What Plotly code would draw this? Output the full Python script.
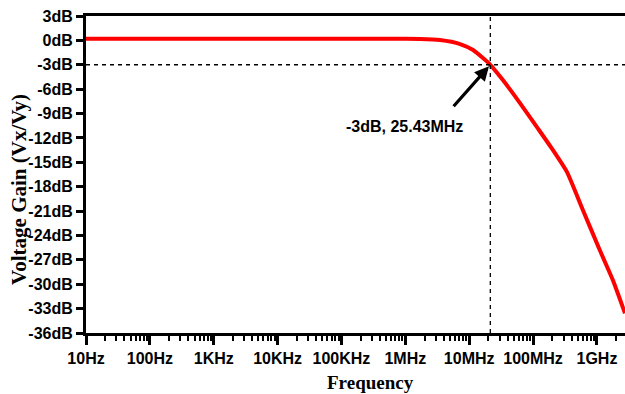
import math
import plotly.graph_objects as go

# Data
freq_hz = [10, 1e3, 1e5, 1e6, 1.7e6, 3.5e6, 7.2e6, 1.15e7, 1.64e7, 2.14e7, 3.37e7,
           6.24e7, 1.15e8, 2.05e8, 3.4e8, 6.04e8, 1.11e9, 1.78e9, 2.75e9]
gain_db = [0.2, 0.2, 0.2, 0.2, 0.18, 0.04, -0.45, -1.19, -2.17, -3.0, -4.88,
           -7.71, -10.67, -13.5, -16.2, -20.89, -25.82, -29.51, -33.58]

tick_freqs = [1e1, 1e2, 1e3, 1e4, 1e5, 1e6, 1e7, 1e8, 1e9]
tick_freq_labels = ["10Hz", "100Hz", "1KHz", "10KHz", "100KHz", "1MHz", "10MHz", "100MHz", "1GHz"]
y_ticks = list(range(3, -37, -3))
y_tick_labels = [f"{v}dB" for v in y_ticks]

marker_freq = 2.14e7   # where the dashed lines cross, as drawn
marker_gain = -3
marker_label = "-3dB, 25.43MHz"

x_min, x_max = 10, 2.75e9
y_min, y_max = -36, 3

sans = "Liberation Sans, Arial, sans-serif"
serif = "Liberation Serif, Times New Roman, serif"
tickfont = dict(family=sans, size=16, color="black", weight="bold")

W, H = 625, 394
plot_left, plot_top, plot_right, plot_bottom = 86, 16, 625, 333
ml, mt, mr, mb = plot_left, plot_top, W - plot_right, H - plot_bottom
pw, ph = W - ml - mr, H - mt - mb


def px_to_paper(px, py):
    return (px - plot_left) / pw, (plot_bottom - py) / ph


fig = go.Figure()
fig.add_trace(go.Scatter(x=freq_hz, y=gain_db, mode="lines",
                         line=dict(color="#FF0000", width=4, shape="spline", smoothing=0.5),
                         hoverinfo="skip", showlegend=False))

# dashed reference lines
fig.add_trace(go.Scatter(x=[x_min, x_max], y=[marker_gain, marker_gain], mode="lines",
                         line=dict(color="black", width=1.3, dash="4px,4px"), showlegend=False))
fig.add_trace(go.Scatter(x=[marker_freq, marker_freq], y=[y_min, y_max], mode="lines",
                         line=dict(color="black", width=1.3, dash="4px,4px"), showlegend=False))

fig.add_annotation(x=math.log10(marker_freq), y=marker_gain, xref="x", yref="y",
                   text="", showarrow=True, ax=-38, ay=43, arrowhead=2, arrowsize=0.9,
                   arrowwidth=3.2, arrowcolor="black", standoff=2)
fig.add_annotation(x=math.log10(marker_freq), y=marker_gain, xref="x", yref="y",
                   text=marker_label, showarrow=False, xshift=-86, yshift=-62,
                   font=dict(family=sans, size=16, color="black", weight="bold"))

# axis titles
tx, ty = px_to_paper(370, 382)
fig.add_annotation(x=tx, y=ty, xref="paper", yref="paper", text="<b>Frequency</b>",
                   xanchor="center", yanchor="middle",
                   showarrow=False, font=dict(family=serif, size=19, color="black"))
tx, ty = px_to_paper(19, 190)
fig.add_annotation(x=tx, y=ty, xref="paper", yref="paper", text="<b>Voltage Gain (Vx/Vy)</b>",
                   xanchor="center", yanchor="middle",
                   showarrow=False, textangle=-90, font=dict(family=serif, size=21, color="black"))

fig.update_layout(
    width=W, height=H,
    margin=dict(l=ml, r=mr, t=mt, b=mb),
    paper_bgcolor="white", plot_bgcolor="white",
    xaxis=dict(type="log", range=[math.log10(x_min), math.log10(x_max)],
               tickvals=tick_freqs, ticktext=tick_freq_labels, tickangle=0, automargin=False,
               ticklabeloverflow="allow",
               showgrid=False, zeroline=False,
               showline=True, linecolor="black", linewidth=3, mirror=True,
               ticks="outside", ticklen=9, tickwidth=3, tickcolor="black",
               minor=dict(ticks="outside", ticklen=5, tickwidth=2, tickcolor="black", dtick="D1", showgrid=False),
               tickfont=tickfont),
    yaxis=dict(range=[y_min, y_max], tickvals=y_ticks, ticktext=y_tick_labels, automargin=False,
               ticklabeloverflow="allow",
               showgrid=False, zeroline=False,
               showline=True, linecolor="black", linewidth=3,
               ticks="outside", ticklen=7, tickwidth=3, tickcolor="black",
               tickfont=tickfont),
)

fig.write_html("out.html",
               config={"displayModeBar": False, "staticPlot": True},
               post_script="document.body.style.margin='0';"
                           "document.body.style.overflow='hidden';"
                           "document.documentElement.style.overflow='hidden';")
